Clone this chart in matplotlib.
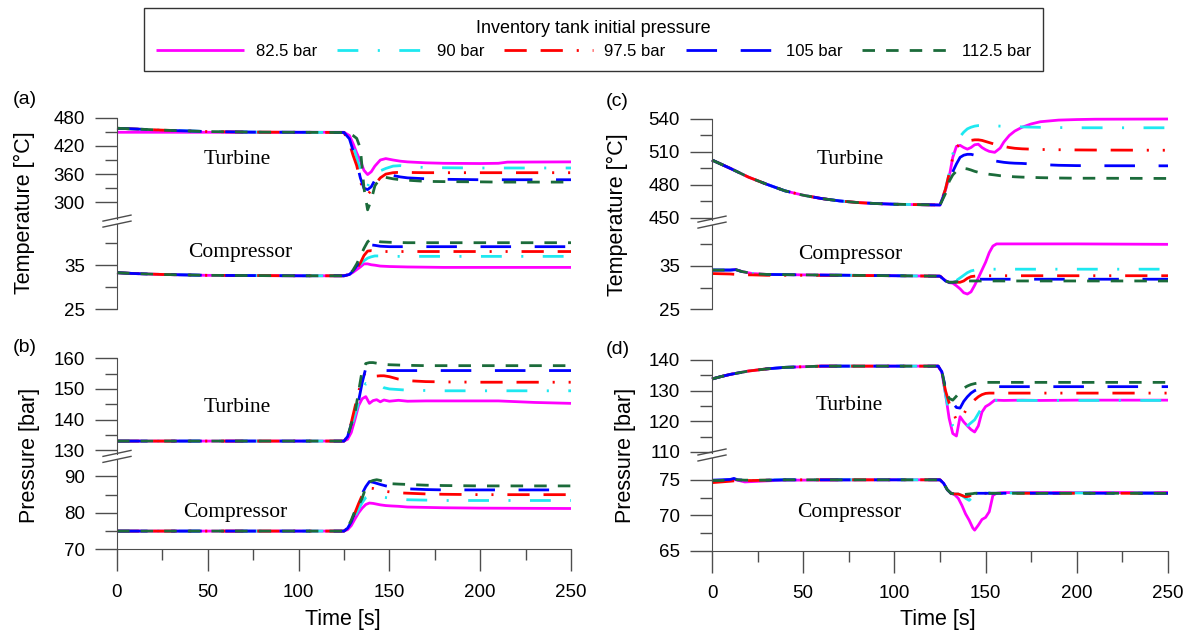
import matplotlib
matplotlib.use("Agg")
import matplotlib.pyplot as plt
from matplotlib.lines import Line2D

plt.rcParams["font.family"] = ["Liberation Sans", "DejaVu Sans"]
plt.rcParams["lines.scale_dashes"] = False

W, H = 1187, 633
AXCOL = "#4d4d4d"

# series styling
LABELS = ["82.5 bar", "90 bar", "97.5 bar", "105 bar", "112.5 bar"]
COLORS = ["#ff00ff", "#1ee8f0", "#ff0000", "#0000ff", "#1b6b3a"]
DASHES = [None, (15, 14, 1.5, 14), (16, 10, 16, 10, 1.5, 10, 1.5, 10), (22, 17), (9, 8)]

# ---- (a) temperature ----
T_A_TURB = [0, 10, 25, 50, 75, 100, 125, 128, 130, 132, 134, 136, 138, 140, 142, 145, 148, 152, 156, 160, 170, 180, 200, 210, 215, 250]
A_TURB_825 = [449, 449, 449, 449, 449, 449, 449, 442, 425, 405, 388, 368, 359, 365, 377, 390, 393, 390, 387.5, 386, 384, 383, 382.5, 383, 385.5, 386]
A_TURB_90 = [457.5, 456, 453.5, 450.5, 449.3, 449, 448.5, 440, 420, 395, 368, 345, 334, 350, 362, 367, 372, 377, 378, 376, 374, 373.5, 373, 373, 373, 373]
A_TURB_975 = [457.5, 456, 453.5, 450.5, 449.3, 449, 448.5, 425, 400, 378, 345, 322, 316, 326, 338, 352, 360, 363, 364, 363.5, 363, 363, 363, 363, 363, 363]
A_TURB_105 = [457.5, 456, 453.5, 450.5, 449.3, 449, 448.5, 435, 410, 385, 352, 330, 327, 333, 347, 360, 362, 357, 354, 352, 350, 349, 348, 348, 348, 348]
A_TURB_1125 = [457.5, 456, 453.5, 450.5, 449.3, 449, 448.5, 446, 442, 436, 415, 330, 284, 305, 335, 352, 353, 350, 348, 347, 344.5, 344, 343.5, 343, 343, 343]

T_A_COMP = [0, 10, 25, 50, 100, 125, 128, 130, 132, 134, 136, 138, 140, 142, 145, 150, 160, 180, 250]
A_COMP_825 = [33.3, 33.1, 32.9, 32.7, 32.6, 32.6, 32.9, 33.4, 34.0, 34.6, 35.3, 35.3, 35.1, 35.0, 34.8, 34.7, 34.6, 34.5, 34.5]
A_COMP_90 = [33.3, 33.1, 32.9, 32.7, 32.6, 32.6, 32.9, 33.5, 34.3, 35.2, 36.0, 36.6, 36.9, 37.1, 37.1, 37.0, 37.0, 37.0, 37.0]
A_COMP_975 = [33.3, 33.1, 32.9, 32.7, 32.6, 32.6, 32.9, 33.6, 34.3, 35.5, 37.2, 38.2, 38.3, 38.2, 38.1, 38.1, 38.1, 38.1, 38.1]
A_COMP_105 = [33.3, 33.1, 32.9, 32.7, 32.6, 32.6, 32.9, 33.7, 34.8, 36.2, 37.8, 39.0, 39.6, 39.5, 39.3, 39.2, 39.2, 39.2, 39.2]
A_COMP_1125 = [33.3, 33.1, 32.9, 32.7, 32.6, 32.6, 32.9, 33.9, 35.3, 37.0, 38.8, 40.3, 41.0, 40.7, 40.3, 40.2, 40.1, 40.1, 40.1]

# ---- (b) pressure ----
T_B_TURB = [0, 125, 127, 129, 131, 133, 135, 137, 139, 141, 143, 145, 147, 150, 155, 160, 170, 180, 200, 210, 230, 250]
B_TURB_825 = [133, 133, 133.6, 135.8, 140, 144.5, 146.8, 147.5, 145.3, 146.2, 146.5, 145.8, 146.4, 146, 146.3, 146, 146.1, 146.1, 146.1, 146.1, 145.6, 145.3]
B_TURB_90 = [133, 133, 134, 137.5, 141.5, 145.5, 149.5, 151.8, 151.5, 151, 151.8, 151.2, 150.4, 150, 149.8, 149.6, 149.5, 149.4, 149.4, 149.4, 149.4, 149.4]
B_TURB_975 = [133, 133, 134.5, 139, 144, 149, 153.5, 155.6, 155, 154.2, 154.2, 154.3, 154.3, 154, 153.2, 152.7, 152.4, 152.3, 152.2, 152.2, 152.2, 152.2]
B_TURB_105 = [133, 133, 134.5, 138.5, 143, 146, 152, 156.8, 157, 156.5, 156.2, 156.1, 156, 156, 156, 156, 156, 156, 156, 156, 156, 156]
B_TURB_1125 = [133, 133, 134.5, 138.5, 142, 149, 156, 158.3, 158.6, 158.6, 158.4, 158.2, 158, 157.9, 157.8, 157.7, 157.6, 157.6, 157.6, 157.6, 157.6, 157.6]

T_B_COMP = [0, 125, 127, 129, 131, 133, 135, 137, 139, 141, 143, 145, 148, 151, 155, 160, 170, 180, 200, 250]
B_COMP_825 = [75, 75, 75.4, 76.5, 78.3, 80.0, 81.3, 82.3, 82.7, 82.6, 82.4, 82.2, 82.0, 81.9, 81.8, 81.6, 81.5, 81.4, 81.3, 81.2]
B_COMP_90 = [75, 75, 75.6, 77.0, 79.0, 81.0, 82.8, 84.2, 84.8, 84.8, 84.6, 84.4, 84.2, 84.0, 83.8, 83.6, 83.5, 83.4, 83.4, 83.4]
B_COMP_975 = [75, 75, 75.8, 77.5, 80.0, 82.5, 84.8, 86.3, 86.8, 86.7, 86.4, 86.1, 85.9, 85.7, 85.5, 85.4, 85.2, 85.1, 85.0, 85.0]
B_COMP_105 = [75, 75, 75.8, 77.5, 80.2, 83.0, 85.3, 87.2, 88.6, 88.4, 88.1, 87.8, 87.4, 87.1, 86.8, 86.6, 86.4, 86.3, 86.3, 86.3]
B_COMP_1125 = [75, 75, 76.0, 78.0, 80.5, 82.0, 84.0, 87.0, 88.5, 88.9, 89.1, 88.9, 88.4, 88.0, 87.9, 87.8, 87.6, 87.5, 87.4, 87.4]

# ---- (c) temperature ----
T_C_TURB = [0, 10, 20, 30, 40, 50, 60, 70, 80, 90, 100, 110, 125, 128, 130, 132, 134, 136, 138, 140, 142, 144, 146, 148, 150, 152, 155, 158, 160, 163, 166, 170, 175, 180, 190, 200, 210, 250]
C_TURB_825 = [502.6, 495, 487, 480.5, 474.5, 470.5, 467.5, 465.3, 463.8, 462.9, 462.3, 462.0, 461.6,
              475, 487, 505, 515, 516, 514, 512.5, 514, 516.5, 517, 514, 512, 510.5, 509.6, 513.5, 519, 525, 529, 532.5, 535.5, 537.5, 539, 539.5, 539.8, 540]
C_TURB_90 = [502.6, 495, 487, 480.5, 474.5, 470.5, 467.5, 465.3, 463.8, 462.9, 462.3, 462.0, 461.6,
             476, 490, 508, 518, 524, 528, 531, 532.5, 533.5, 534, 534, 534, 534, 533.8, 533.5, 533.3, 533, 533, 532.8, 532.6, 532.4, 532.2, 532, 532, 532]
C_TURB_975 = [502.6, 495, 487, 480.5, 474.5, 470.5, 467.5, 465.3, 463.8, 462.9, 462.3, 462.0, 461.6,
              476, 490, 505, 514, 517.5, 518.5, 519.5, 520.5, 521, 521, 520.5, 519.5, 518.5, 517, 516, 515, 514, 513.3, 512.8, 512.5, 512.2, 512, 511.8, 511.7, 511.5]
C_TURB_105 = [502.6, 495, 487, 480.5, 474.5, 470.5, 467.5, 465.3, 463.8, 462.9, 462.3, 462.0, 461.6,
              474, 484, 492, 499, 505, 507, 507.8, 507.8, 507, 506, 505, 504, 503, 501.8, 501, 500.5, 500, 499.7, 499.5, 499, 498.5, 497.8, 497.5, 497.4, 497.3]
C_TURB_1125 = [502.6, 495, 487, 480.5, 474.5, 470.5, 467.5, 465.3, 463.8, 462.9, 462.3, 462.0, 461.6,
               472, 483, 489, 492.5, 494.5, 495, 494.5, 493.5, 492.3, 491.4, 490.8, 490.2, 489.6, 489, 488.3, 488, 487.6, 487.3, 487, 486.8, 486.5, 486.2, 486, 486, 485.8]

T_C_COMP = [0, 10, 13, 16, 22, 30, 50, 100, 125, 128, 130, 132, 134, 136, 138, 140, 142, 144, 146, 148, 150, 152, 154, 156, 160, 200, 250]
C_COMP_825 = [34.0, 34.0, 34.1, 33.7, 33.2, 33.0, 32.9, 32.7, 32.6,
              31.6, 31.1, 31.0, 30.4, 29.7, 28.8, 28.5, 29.0, 30.5, 32.2, 34.0, 35.8, 38.0, 39.5, 40.0, 40.0, 40.0, 39.9]
C_COMP_90 = [34.0, 34.0, 34.1, 33.7, 33.2, 33.0, 32.9, 32.7, 32.6,
             31.5, 31.2, 31.3, 31.6, 32.2, 32.8, 33.4, 33.8, 34.0, 34.2, 34.2, 34.2, 34.2, 34.2, 34.2, 34.2, 34.2, 34.2]
C_COMP_975 = [33.2, 33.1, 33.0, 32.9, 32.9, 32.8, 32.8, 32.7, 32.6,
              31.6, 31.2, 31.2, 31.2, 31.2, 31.5, 32.1, 32.5, 32.6, 32.7, 32.7, 32.7, 32.7, 32.7, 32.7, 32.7, 32.7, 32.7]
C_COMP_105 = [34.0, 34.0, 34.1, 33.7, 33.2, 33.0, 32.9, 32.7, 32.6,
              31.5, 31.2, 31.2, 31.3, 31.5, 31.7, 31.8, 31.9, 31.9, 31.9, 31.9, 31.9, 31.9, 31.9, 31.9, 31.9, 31.9, 31.9]
C_COMP_1125 = [34.0, 34.0, 34.1, 33.7, 33.2, 33.0, 32.9, 32.7, 32.6,
               31.5, 31.2, 31.2, 31.3, 31.4, 31.5, 31.5, 31.5, 31.5, 31.5, 31.5, 31.5, 31.5, 31.5, 31.5, 31.5, 31.5, 31.5]

# ---- (d) pressure ----
T_D_TURB = [0, 5, 10, 20, 30, 40, 60, 80, 100, 124, 126, 128, 130, 132, 134, 136, 138, 140, 142, 144, 146, 148, 150, 152, 155, 160, 170, 180, 200, 250]
D_TURB_825 = [133.8, 134.6, 135.3, 136.4, 137.1, 137.6, 138.0, 138.0, 138.0, 138.0,
              136, 129, 121, 116, 115.2, 121.5, 119.8, 118.5, 117.3, 116.5, 118.5, 123, 124.8, 125.5, 126.9, 126.8, 126.9, 126.8, 126.9, 126.9]
D_TURB_90 = [133.8, 134.6, 135.3, 136.4, 137.1, 137.6, 138.0, 138.0, 138.0, 138.0,
             136, 129, 122.5, 118.5, 117, 116.6, 116.5, 118.5, 119.5, 120.5, 122.5, 124.5, 126, 126.5, 126.8, 126.8, 126.8, 126.8, 126.8, 126.8]
D_TURB_975 = [133.8, 134.6, 135.3, 136.4, 137.1, 137.6, 138.0, 138.0, 138.0, 138.0,
              136, 130, 126, 123, 120.5, 120.4, 122.3, 124.5, 125.8, 127, 128, 128.7, 129.1, 129.2, 129.2, 129.2, 129.2, 129.2, 129.2, 129.2]
D_TURB_105 = [133.8, 134.6, 135.3, 136.4, 137.1, 137.6, 138.0, 138.0, 138.0, 138.0,
              136.2, 131, 128, 126, 124.5, 124.3, 126.5, 128, 129.2, 130, 130.5, 130.8, 131, 131.2, 131.3, 131.3, 131.3, 131.3, 131.3, 131.3]
D_TURB_1125 = [133.8, 134.6, 135.3, 136.4, 137.1, 137.6, 138.0, 138.0, 138.0, 138.0,
               136.5, 130.2, 127.5, 126.9, 128.2, 129.6, 130.8, 131.5, 132, 132.3, 132.5, 132.6, 132.7, 132.7, 132.7, 132.7, 132.7, 132.7, 132.7, 132.7]

T_D_COMP = [0, 5, 10, 12, 14, 18, 22, 30, 40, 100, 125, 127, 129, 131, 133, 135, 137, 139, 141, 143, 144, 146, 148, 150, 152, 154, 156, 160, 250]
D_COMP_825 = [74.9, 74.9, 75.0, 75.05, 74.95, 74.7, 74.75, 74.85, 74.95, 75.0, 75.0,
              74.5, 73.6, 73.1, 72.9, 72.4, 71.4, 70.2, 69.3, 68.2, 67.9, 68.6, 69.4, 69.7, 70.5, 72.8, 73.1, 73.2, 73.2]
D_COMP_90 = [74.9, 74.9, 75.0, 75.05, 75.0, 74.95, 74.9, 74.95, 75.0, 75.0, 75.0,
             74.5, 73.6, 73.1, 73.0, 73.0, 72.8, 72.4, 72.1, 72.6, 72.9, 73.1, 73.1, 73.15, 73.15, 73.15, 73.15, 73.15, 73.15]
D_COMP_975 = [74.6, 74.7, 74.8, 74.85, 74.9, 74.9, 74.9, 74.95, 75.0, 75.0, 75.0,
              74.5, 73.6, 73.1, 73.0, 73.0, 72.8, 72.6, 72.7, 73.0, 73.1, 73.1, 73.1, 73.1, 73.1, 73.1, 73.1, 73.1, 73.1]
D_COMP_105 = [74.95, 75.0, 75.05, 75.2, 75.0, 74.95, 74.95, 74.95, 75.0, 75.0, 75.0,
              74.5, 73.6, 73.1, 73.05, 73.05, 73.1, 73.1, 73.1, 73.1, 73.1, 73.1, 73.1, 73.1, 73.1, 73.1, 73.1, 73.1, 73.1]
D_COMP_1125 = [74.9, 74.9, 75.0, 75.05, 75.0, 74.95, 74.95, 74.95, 75.0, 75.0, 75.0,
               74.5, 73.6, 73.1, 73.0, 72.95, 72.9, 72.95, 73.0, 73.05, 73.1, 73.1, 73.1, 73.1, 73.1, 73.1, 73.1, 73.1, 73.1]

fig = plt.figure(figsize=(W / 100, H / 100), dpi=100)


def px_axes(x0, y0, x1, y1):
    # axes from pixel box (top-left origin)
    return fig.add_axes([x0 / W, 1 - y1 / H, (x1 - x0) / W, (y1 - y0) / H])


def draw_lines(ax, t, series):
    lines = []
    for vals, col, dash, lab in zip(series, COLORS, DASHES, LABELS):
        ln, = ax.plot(t, vals, color=col, lw=2.0, label=lab, clip_on=False,
                      solid_capstyle="butt")
        if dash is not None:
            ln.set_dashes(dash)
        lines.append(ln)
    return lines


def style(ax, ylim, major, minor, hpx, which, time_axis):
    ax.set_xlim(0, 250)
    ax.set_ylim(*ylim)
    ax.patch.set_visible(False)
    ax.spines["top"].set_visible(False)
    ax.spines["right"].set_visible(False)
    ax.spines["left"].set_color(AXCOL)
    ax.spines["bottom"].set_color(AXCOL)
    gap = 2.5 * (ylim[1] - ylim[0]) / hpx
    if which == "upper":
        ax.spines["left"].set_bounds(ylim[0] + gap, major[-1])
    else:
        ax.spines["left"].set_bounds(ylim[0], ylim[1] - gap)
    ax.set_yticks(major)
    ax.set_yticks(minor, minor=True)
    ax.tick_params(axis="y", which="major", length=16, width=1, color=AXCOL,
                   pad=7, labelsize=13.5)
    ax.tick_params(axis="y", which="minor", length=9, width=1, color=AXCOL)
    if which == "lower" and time_axis:
        ax.set_xticks([0, 50, 100, 150, 200, 250])
        ax.set_xticks([25, 75, 125, 175, 225], minor=True)
        ax.tick_params(axis="x", which="major", length=16, width=1, color=AXCOL,
                       pad=9, labelsize=13.5)
        ax.tick_params(axis="x", which="minor", length=8, width=1, color=AXCOL)
    else:
        ax.spines["bottom"].set_visible(False)
        ax.set_xticks([])
        ax.set_xticks([], minor=True)


def break_mark(xs, yb):
    for d in (-3, 3):
        fig.add_artist(Line2D([(xs - 14) / W, (xs + 14) / W],
                              [1 - (yb + d + 3) / H, 1 - (yb + d - 3) / H],
                              color=AXCOL, lw=1))


def panel(x0, x1, ytop, ybrk, ybot, up_lim, lo_lim, up_ticks, lo_ticks,
          t_up, s_up, t_lo, s_lo, time_axis):
    ax_u = px_axes(x0, ytop, x1, ybrk)
    ax_l = px_axes(x0, ybrk, x1, ybot)
    draw_lines(ax_u, t_up, s_up)
    lines = draw_lines(ax_l, t_lo, s_lo)
    style(ax_u, up_lim, up_ticks[0], up_ticks[1], ybrk - ytop, "upper", time_axis)
    style(ax_l, lo_lim, lo_ticks[0], lo_ticks[1], ybot - ybrk, "lower", time_axis)
    break_mark(x0, ybrk)
    return lines


LX0, LX1 = 117, 571
RX0, RX1 = 712, 1168

panel(LX0, LX1, 117.7, 221.1, 309.3, (260, 480), (25, 45),
      ([300, 360, 420, 480], [330, 390, 450]), ([25, 35], [30, 40]),
      T_A_TURB, [A_TURB_825, A_TURB_90, A_TURB_975, A_TURB_105, A_TURB_1125],
      T_A_COMP, [A_COMP_825, A_COMP_90, A_COMP_975, A_COMP_105, A_COMP_1125], False)

panel(LX0, LX1, 358.3, 456.4, 549.3, (128, 160), (70, 95.5),
      ([130, 140, 150, 160], [135, 145, 155]), ([70, 80, 90], [75, 85]),
      T_B_TURB, [B_TURB_825, B_TURB_90, B_TURB_975, B_TURB_105, B_TURB_1125],
      T_B_COMP, [B_COMP_825, B_COMP_90, B_COMP_975, B_COMP_105, B_COMP_1125], True)

panel(RX0, RX1, 119, 222.1, 309.3, (446, 540), (25, 45),
      ([450, 480, 510, 540], [465, 495, 525]), ([25, 35], [30, 40]),
      T_C_TURB, [C_TURB_825, C_TURB_90, C_TURB_975, C_TURB_105, C_TURB_1125],
      T_C_COMP, [C_COMP_825, C_COMP_90, C_COMP_975, C_COMP_105, C_COMP_1125], False)

handles = panel(RX0, RX1, 360, 455, 550.7, (109, 140), (65, 78.5),
                ([110, 120, 130, 140], [115, 125, 135]), ([65, 70, 75], [67.5, 72.5]),
                T_D_TURB, [D_TURB_825, D_TURB_90, D_TURB_975, D_TURB_105, D_TURB_1125],
                T_D_COMP, [D_COMP_825, D_COMP_90, D_COMP_975, D_COMP_105, D_COMP_1125], True)


def ftext(x, y, s, **kw):
    fig.text(x / W, 1 - y / H, s, ha="center", va="center", **kw)


# panel letters, axis titles
for (x, y, s) in [(25, 100, "(a)"), (25, 347, "(b)"), (617, 101, "(c)"), (618, 350, "(d)")]:
    ftext(x, y, s, fontsize=14)
ftext(24, 213, "Temperature [\u00b0C]", fontsize=15.5, rotation=90)
ftext(617, 215, "Temperature [\u00b0C]", fontsize=15.5, rotation=90)
ftext(30, 455, "Pressure [bar]", fontsize=15.5, rotation=90)
ftext(625, 455, "Pressure [bar]", fontsize=15.5, rotation=90)
ftext(343, 620, "Time [s]", fontsize=15.5)
ftext(938, 620, "Time [s]", fontsize=15.5)

# Turbine / Compressor annotations
serif = ["Liberation Serif", "DejaVu Serif"]
for (x, y, s) in [(237, 159, "Turbine"), (240, 253, "Compressor"),
                  (850, 159, "Turbine"), (850, 254, "Compressor"),
                  (237, 407, "Turbine"), (235, 513, "Compressor"),
                  (849, 406, "Turbine"), (849, 513, "Compressor")]:
    ftext(x, y, s, fontsize=15.5, family=serif)

leg = fig.legend(handles, LABELS, loc="upper left", bbox_to_anchor=(144 / W, 1 - 8 / H),
                 ncol=5, fontsize=12, title="Inventory tank initial pressure",
                 title_fontsize=13, frameon=True, fancybox=False, borderaxespad=0,
                 handlelength=5.3, handletextpad=0.7, columnspacing=1.2,
                 borderpad=0.7, labelspacing=0.45)
leg.get_frame().set_edgecolor("black")
leg.get_frame().set_linewidth(1.0)

fig.savefig("out.png", dpi=100)
